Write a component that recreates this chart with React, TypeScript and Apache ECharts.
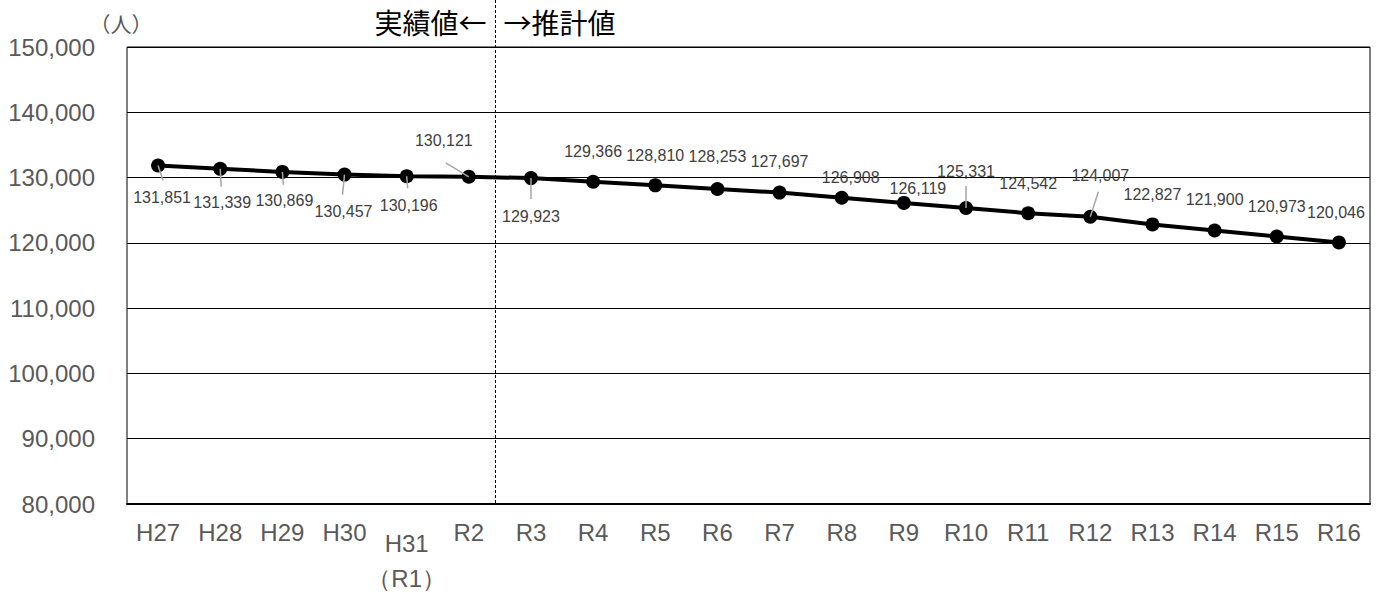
import React, { useEffect, useRef } from "react";
import * as echarts from "echarts";

const categories = ["H27", "H28", "H29", "H30", "H31\n（R1）", "R2", "R3", "R4", "R5", "R6", "R7", "R8", "R9", "R10", "R11", "R12", "R13", "R14", "R15", "R16"];
const population = [131851, 131339, 130869, 130457, 130196, 130121, 129923, 129366, 128810, 128253, 127697, 126908, 126119, 125331, 124542, 124007, 122827, 121900, 120973, 120046];
const yTicks = { min: 80000, max: 150000, interval: 10000 };

// label offsets (style): [dx, dy] of label centre relative to the point
const labelOffsets: number[][] = [
  [4, 32], [2, 34], [2, 29], [-1, 37], [2, 29], [-25, -36], [0, 38],
  [0, -30], [0, -30], [0, -32], [0, -31], [9, -20], [14, -14], [0, -37],
  [0, -30], [10, -41], [0, -30], [0, -31], [0, -30], [-3, -30],
];
// leader lines (style): index -> end offset from the point
const leaders: Record<number, number[]> = {
  0: [5, 15], 1: [1, 18], 2: [1, 13], 3: [-2, 20], 4: [1, 12], 5: [-23, -14], 6: [0, 21], 13: [0, -22], 15: [8, -25],
};

const fmt = (v: number) => v.toString().replace(/\B(?=(\d{3})+(?!\d))/g, ",");

export default function App() {
  const ref = useRef<HTMLDivElement>(null);
  useEffect(() => {
    const chart = echarts.init(ref.current!, null, { renderer: "svg" });
    const font = "'Liberation Sans', Arial, sans-serif";
    const cjk = "'Noto Sans CJK JP', sans-serif";
    chart.setOption({
      animation: false,
      backgroundColor: "#fff",
      grid: { left: 127, right: 14, top: 47, bottom: 87, show: true, borderColor: "#000", borderWidth: 1 },
      xAxis: {
        type: "category",
        data: categories.map((c) =>
          c.includes("\n")
            ? { value: c, textStyle: { lineHeight: 35, padding: [6, 0, 0, 0] } }
            : c
        ),
        boundaryGap: true,
        axisLine: { lineStyle: { color: "#000", width: 2 } },
        axisTick: { show: false },
        axisLabel: { color: "#595959", fontSize: 24, fontFamily: font, margin: 16, interval: 0 },
      },
      yAxis: {
        type: "value",
        min: yTicks.min,
        max: yTicks.max,
        interval: yTicks.interval,
        axisLine: { show: false },
        axisTick: { show: false },
        splitLine: { lineStyle: { color: "#000", width: 1 } },
        axisLabel: { color: "#595959", fontSize: 24, fontFamily: font, margin: 32, formatter: (v: number) => fmt(v) },
      },
      series: [
        {
          type: "line",
          data: population.map((v, i) => ({
            value: v,
            label: { offset: labelOffsets[i] },
          })),
          symbol: "circle",
          symbolSize: 14,
          itemStyle: { color: "#000" },
          lineStyle: { color: "#000", width: 4 },
          label: {
            show: true,
            position: "inside",
            color: "#404040",
            fontSize: 16,
            fontFamily: font,
            formatter: (p: any) => fmt(p.value),
          },
          z: 3,
        },
      ],
    });

    const graphics: any[] = [];
    Object.keys(leaders).forEach((k) => {
      const i = Number(k);
      const p = chart.convertToPixel({ xAxisIndex: 0, yAxisIndex: 0 }, [i, population[i]]) as number[];
      const d = leaders[i];
      graphics.push({
        type: "line",
        z: 100,
        shape: { x1: p[0], y1: p[1], x2: p[0] + d[0], y2: p[1] + d[1] },
        style: { stroke: "#a6a6a6", lineWidth: 1.5 },
      });
    });
    const pa = chart.convertToPixel({ xAxisIndex: 0, yAxisIndex: 0 }, [5, yTicks.min]) as number[];
    const pb = chart.convertToPixel({ xAxisIndex: 0, yAxisIndex: 0 }, [6, yTicks.min]) as number[];
    const dx = Math.round((pa[0] + pb[0]) / 2 - 5) + 0.5;
    graphics.push({
      type: "line",
      z: 50,
      shape: { x1: dx, y1: 0, x2: dx, y2: pa[1] },
      style: { stroke: "#000", lineWidth: 1, lineDash: [3, 2] },
    });
    graphics.push({
      type: "text",
      x: dx - 9,
      y: 22,
      style: { text: "実績値←", fill: "#000", fontSize: 28, fontFamily: cjk, align: "right", verticalAlign: "middle" },
    });
    graphics.push({
      type: "text",
      x: dx + 8,
      y: 22,
      style: { text: "→推計値", fill: "#000", fontSize: 28, fontFamily: cjk, align: "left", verticalAlign: "middle" },
    });
    graphics.push({
      type: "text",
      x: 121,
      y: 23,
      style: { text: "（人）", fill: "#595959", fontSize: 21, fontFamily: cjk, align: "center", verticalAlign: "middle" },
    });
    chart.setOption({ graphic: graphics });

    return () => chart.dispose();
  }, []);
  return <div ref={ref} style={{ width: 1384, height: 596, position: "absolute", left: 0, top: 0 }} />;
}
